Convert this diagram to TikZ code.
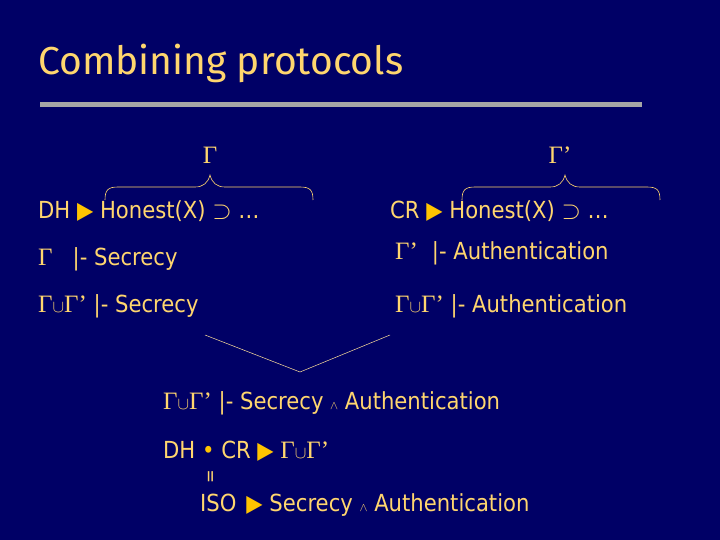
\documentclass[tikz,border=0pt]{standalone}
\usepackage{fontspec}
\setmainfont{DejaVu Sans Condensed}
\newfontfamily\gfont{Liberation Serif}
\newfontfamily\tfont{Fira Sans}
\begin{document}
\begin{tikzpicture}[x=1pt,y=-1pt,
  txt/.style={anchor=west,text=gold,inner sep=0pt,font=\fontsize{23.5}{26}\selectfont}]
\definecolor{bg}{RGB}{0,0,102}
\definecolor{gold}{RGB}{255,214,110}
\definecolor{tri}{RGB}{255,196,0}
\newcommand{\G}{{\gfont\fontsize{25}{26}\selectfont Γ}}
\newcommand{\Gp}{{\gfont\fontsize{25}{26}\selectfont Γ’}}
\newcommand{\GG}{{\gfont\fontsize{25}{26}\selectfont Γ}{\fontsize{16}{16}\selectfont$\cup$}{\gfont\fontsize{25}{26}\selectfont Γ’}}
\newcommand{\tr}{{\color{tri}▶}}
\newcommand{\wed}{{\fontsize{13}{13}\selectfont$\wedge$}}
\fill[bg] (0,0) rectangle (720,540);
\useasboundingbox (0,0) rectangle (720,540);
\node[txt,font=\tfont\fontsize{39}{42}\selectfont] (title) at (38,63) {Combining protocols};
\fill[gray!70] (40,102) rectangle (642,107);
\node[txt,anchor=center] (g1) at (210,155) {\G};
\node[txt,anchor=center] (g2) at (560,155) {\Gp};
\draw[gold,line width=0.6pt] (105,200) .. controls (105,190) and (108,187) .. (118,187) -- (195,187) .. controls (203,187) and (208,183) .. (210,175) .. controls (212,183) and (217,187) .. (225,187) -- (300,187) .. controls (310,187) and (313,190) .. (313,200);
\draw[gold,line width=0.6pt] (462,200) .. controls (462,190) and (465,187) .. (475,187) -- (550,187) .. controls (558,187) and (563,183) .. (565,175) .. controls (567,183) and (572,187) .. (580,187) -- (647,187) .. controls (657,187) and (660,190) .. (660,200);
\node[txt] (l1) at (38,211) {DH \tr{} Honest(X) $\supset$ …};
\node[txt] (r1) at (390,211) {CR \tr{} Honest(X) $\supset$ …};
\node[txt] (l2) at (38,259) {\G\hspace{20pt}|- Secrecy};
\node[txt] (r2) at (395,253) {\Gp\hspace{14pt}|- Authentication};
\node[txt] (l3) at (38,306) {\GG{} |- Secrecy};
\node[txt] (r3) at (395,306) {\GG{} |- Authentication};
\coordinate (va) at (205,335);
\coordinate (vb) at (300,372);
\coordinate (vc) at (390,335);
\draw[gold!70!white,line width=0.5pt] (va) -- (vb) -- (vc);
\node[txt] (c1) at (163,403) {\GG{} |- Secrecy \wed{} Authentication};
\node[txt] (c2) at (163,451) {DH {\color{tri}•} CR \tr{} \GG};
\node[txt,rotate=90,font=\fontsize{18}{18}\selectfont,anchor=center] (eq) at (212,477) {=};
\node[txt] (c3) at (200,505) {ISO\hspace{10pt}\tr{} Secrecy \wed{} Authentication};
\end{tikzpicture}
\end{document}
